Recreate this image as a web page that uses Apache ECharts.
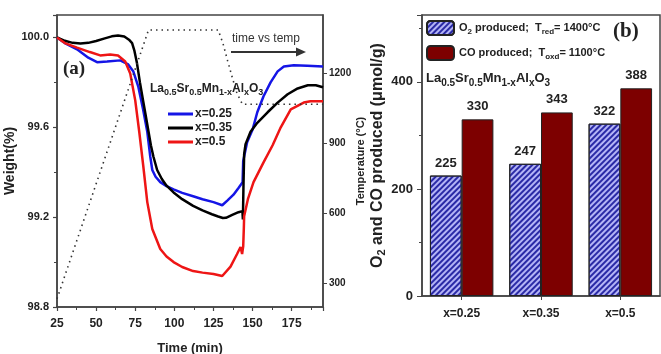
<!DOCTYPE html>
<html>
<head>
<meta charset="utf-8">
<script src="https://cdn.jsdelivr.net/npm/echarts@6/dist/echarts.min.js"></script>
<style>
  html, body { margin: 0; padding: 0; background: #fff; }
  #main { width: 661px; height: 354px; }
</style>
</head>
<body>
<div id="main"></div>
<script>
// panel (a): TGA traces, [time (min), weight (%)]
var weight025 = [[25,100.0],[30,99.975],[37.8,99.947],[45,99.91],[50.6,99.89],[57,99.893],[65.4,99.898],[70.5,99.88],[73.7,99.85],[77,99.78],[80,99.68],[82.7,99.58],[84.6,99.47],[85.9,99.41],[88,99.38],[91,99.356],[95,99.338],[99.5,99.324],[105,99.308],[112,99.293],[118,99.28],[125,99.267],[130.6,99.253],[134,99.275],[137.8,99.30],[141,99.33],[143.6,99.355],[144,99.45],[146.5,99.533],[150,99.59],[153,99.667],[157,99.738],[161.5,99.80],[166,99.849],[170,99.871],[176.3,99.876],[185,99.874],[195,99.871]];
var weight035 = [[25,100.0],[30,99.985],[35,99.976],[40,99.973],[45,99.976],[50,99.984],[55,99.995],[60,100.005],[64,100.009],[68,100.004],[71,99.99],[73,99.975],[74.5,99.94],[76,99.89],[78,99.80],[80,99.72],[81.5,99.66],[83.5,99.58],[85,99.52],[86.6,99.47],[89,99.41],[92,99.37],[95,99.34],[99.5,99.31],[105,99.28],[112,99.25],[118,99.23],[124,99.213],[128,99.203],[131,99.196],[133,99.197],[137,99.21],[141,99.222],[143.5,99.227],[143.8,99.19],[144.2,99.35],[144.6,99.48],[145.5,99.525],[148.7,99.58],[153,99.62],[159.6,99.667],[166,99.71],[172.4,99.747],[178.8,99.773],[185.3,99.787],[190.4,99.787],[195,99.778]];
var weight05 = [[25,100.0],[30,99.975],[37.8,99.955],[46,99.935],[52.6,99.92],[59,99.924],[64,99.92],[68.6,99.893],[71.8,99.84],[75,99.72],[77.6,99.578],[80.1,99.43],[82.7,99.267],[85.9,99.147],[91,99.058],[95,99.025],[99.5,99.0],[105,98.978],[112,98.96],[118,98.953],[125,98.947],[130.6,98.938],[135.9,98.98],[140,99.035],[142.3,99.067],[143.3,99.036],[144,99.07],[144.4,99.15],[144.6,99.204],[147,99.28],[150.6,99.356],[157,99.444],[162.8,99.52],[168,99.60],[174.4,99.68],[182.7,99.71],[187,99.716],[195,99.716]];
// furnace programme, [time (min), temperature (°C)]
var tempProgram = [[25,235],[83.5,1386],[128,1386],[131,1330],[134,1255],[137,1183],[140,1115],[143.5,1068],[195,1068]];
var tempTicks = [300, 600, 900, 1200];

// panel (b): gas yields (µmol/g)
var samples = ['x=0.25', 'x=0.35', 'x=0.5'];
var o2Produced = [225, 247, 322];
var coProduced = [330, 343, 388];

var FONT = 'Liberation Sans';
var INK = '#222';
var FRAME = '#444';

var subRich = {
  t: { fontFamily: FONT, fontWeight: 'bold', fontSize: 12, color: INK },
  s: { fontFamily: FONT, fontWeight: 'bold', fontSize: 9, color: INK, padding: [8, 0, 0, 0] }
};
var subRichB = {
  t: { fontFamily: FONT, fontWeight: 'bold', fontSize: 13, color: INK },
  s: { fontFamily: FONT, fontWeight: 'bold', fontSize: 10, color: INK, padding: [9, 0, 0, 0] }
};
var formula = '{t|La}{s|0.5}{t|Sr}{s|0.5}{t|Mn}{s|1-x}{t|Al}{s|x}{t|O}{s|3}';

var axisBase = {
  axisLine: { show: true, lineStyle: { color: FRAME, width: 1.5 } },
  axisTick: { show: true, length: 4, lineStyle: { color: FRAME, width: 1.2 } },
  splitLine: { show: false },
  axisLabel: { fontFamily: FONT, fontWeight: 'bold', color: INK, fontSize: 12, showMaxLabel: false }
};
function ax(o) { return Object.assign({}, JSON.parse(JSON.stringify(axisBase)), o); }

var chart = echarts.init(document.getElementById('main'));
chart.setOption({
  backgroundColor: '#fff',
  animation: false,
  title: [
    { text: '(a)', left: 63, top: 60, padding: 0,
      textStyle: { fontFamily: 'Liberation Serif', fontWeight: 'bold', fontSize: 19, color: INK } },
    { text: '(b)', left: 613, top: 21, padding: 0,
      textStyle: { fontFamily: 'Liberation Serif', fontWeight: 'bold', fontSize: 21, color: INK } },
    { text: formula, left: 150, top: 80, padding: 0, textStyle: { rich: subRich } },
    { text: formula, left: 426, top: 69, padding: 0, textStyle: { rich: subRichB } },
    { text: 'time vs temp', left: 232, top: 33, padding: 0,
      textStyle: { fontFamily: FONT, fontWeight: 'normal', fontSize: 12, color: '#333' } }
  ],
  graphic: [
    { type: 'line', shape: { x1: 231, y1: 52, x2: 298, y2: 52 }, style: { stroke: '#333', lineWidth: 2 } },
    { type: 'polygon', shape: { points: [[296, 47.5], [306, 52], [296, 56.5]] }, style: { fill: '#333' } }
  ],
  legend: [
    { data: ['x=0.25', 'x=0.35', 'x=0.5'], orient: 'vertical', left: 168, top: 108,
      icon: 'rect', itemWidth: 25, itemHeight: 3, itemGap: 2, padding: 0,
      textStyle: { fontFamily: FONT, fontWeight: 'bold', fontSize: 12, color: INK, padding: [0, 0, 0, -3] } },
    { data: ['O2', 'CO'], orient: 'vertical', left: 426, top: 20,
      itemWidth: 27, itemHeight: 14, itemGap: 9, padding: 0,
      formatter: function (name) {
        return name === 'O2'
          ? '{t|O}{s|2}{t| produced;  T}{s|red}{t|= 1400°C}'
          : '{t|CO produced;  T}{s|oxd}{t|= 1100°C}';
      },
      textStyle: {
        rich: {
          t: { fontFamily: FONT, fontWeight: 'bold', fontSize: 11, color: INK },
          s: { fontFamily: FONT, fontWeight: 'bold', fontSize: 8, color: INK, padding: [7, 0, 0, 0] }
        }
      } }
  ],
  grid: [
    { left: 57, top: 15, width: 266, height: 292, show: true, borderColor: FRAME, borderWidth: 1.5,
      outerBoundsMode: 'none', containLabel: false },
    { left: 422, top: 15, width: 238, height: 281, show: true, borderColor: FRAME, borderWidth: 1.5,
      outerBoundsMode: 'none', containLabel: false }
  ],
  xAxis: [
    ax({ gridIndex: 0, type: 'value', min: 25, max: 195, interval: 25,
      minorTick: { show: true, splitNumber: 2, length: 3, lineStyle: { color: FRAME } },
      axisLabel: { fontFamily: FONT, fontWeight: 'bold', color: INK, fontSize: 12, margin: 11, showMaxLabel: false },
      name: 'Time (min)', nameLocation: 'middle', nameGap: 35,
      nameTextStyle: { fontFamily: FONT, fontWeight: 'bold', fontSize: 13, color: INK } }),
    ax({ gridIndex: 1, type: 'category', data: samples,
      axisTick: { show: true, alignWithLabel: true, length: 4, lineStyle: { color: FRAME } },
      axisLabel: { fontFamily: FONT, fontWeight: 'bold', color: INK, fontSize: 12, margin: 12 } })
  ],
  yAxis: [
    ax({ gridIndex: 0, type: 'value', min: 98.8, max: 100.1, interval: 0.4,
      minorTick: { show: true, splitNumber: 2, length: 3, lineStyle: { color: FRAME } },
      axisLabel: { fontFamily: FONT, fontWeight: 'bold', color: INK, fontSize: 11, margin: 8, showMaxLabel: false,
        formatter: function (v) { return v.toFixed(1); } },
      name: 'Weight(%)', nameLocation: 'middle', nameGap: 34, nameRotate: 90,
      nameTextStyle: { fontFamily: FONT, fontWeight: 'bold', fontSize: 14, color: INK } }),
    ax({ gridIndex: 0, type: 'value', position: 'right', min: 200, max: 1450,
      axisTick: { show: true, length: 4, customValues: tempTicks, lineStyle: { color: FRAME } },
      axisLabel: { fontFamily: FONT, fontWeight: 'bold', color: INK, fontSize: 10, margin: 6,
        customValues: tempTicks, formatter: function (v) { return String(v); } },
      name: 'Temperature (°C)', nameLocation: 'middle', nameGap: 31, nameRotate: 90,
      nameTextStyle: { fontFamily: FONT, fontWeight: 'bold', fontSize: 11, color: INK } }),
    ax({ gridIndex: 1, type: 'value', min: 0, max: 525, interval: 200,
      minorTick: { show: true, splitNumber: 2, length: 3, lineStyle: { color: FRAME } },
      axisTick: { show: true, length: 5, lineStyle: { color: FRAME } },
      axisLabel: { fontFamily: FONT, fontWeight: 'bold', color: INK, fontSize: 13, margin: 9, showMaxLabel: false },
      name: '{t|O}{s|2}{t| and CO produced (μmol/g)}', nameLocation: 'middle', nameGap: 31, nameRotate: 90,
      nameTextStyle: { rich: {
        t: { fontFamily: FONT, fontWeight: 'bold', fontSize: 16, color: INK },
        s: { fontFamily: FONT, fontWeight: 'bold', fontSize: 11, color: INK, padding: [9, 0, 0, 0] }
      } } })
  ],
  series: [
    { name: 'x=0.25', type: 'line', xAxisIndex: 0, yAxisIndex: 0, data: weight025,
      symbol: 'none', lineStyle: { color: '#1515e6', width: 2.5 }, itemStyle: { color: '#1515e6' } },
    { name: 'x=0.35', type: 'line', xAxisIndex: 0, yAxisIndex: 0, data: weight035,
      symbol: 'none', lineStyle: { color: '#000', width: 2.5 }, itemStyle: { color: '#000' } },
    { name: 'x=0.5', type: 'line', xAxisIndex: 0, yAxisIndex: 0, data: weight05,
      symbol: 'none', lineStyle: { color: '#ee1515', width: 2.5 }, itemStyle: { color: '#ee1515' } },
    { name: 'temp', type: 'line', xAxisIndex: 0, yAxisIndex: 1, data: tempProgram,
      symbol: 'none', lineStyle: { color: '#333', width: 1.6, type: [1.5, 4] } },
    { name: 'O2', type: 'bar', xAxisIndex: 1, yAxisIndex: 2, data: o2Produced,
      barGap: '0%', barCategoryGap: '20%',
      itemStyle: { color: '#b4b4f6', borderColor: '#222', borderWidth: 1,
        decal: { symbol: 'rect', dashArrayX: [1, 0], dashArrayY: [1.6, 1.6], rotation: -Math.PI / 4, color: '#2a2aa6' } },
      label: { show: true, position: 'top', distance: 6, fontFamily: FONT, fontWeight: 'bold', fontSize: 13, color: INK } },
    { name: 'CO', type: 'bar', xAxisIndex: 1, yAxisIndex: 2, data: coProduced,
      barGap: '0%', barCategoryGap: '20%',
      itemStyle: { color: '#7d0000', borderColor: '#222', borderWidth: 1 },
      label: { show: true, position: 'top', distance: 6, fontFamily: FONT, fontWeight: 'bold', fontSize: 13, color: INK } }
  ]
});
</script>
</body>
</html>
